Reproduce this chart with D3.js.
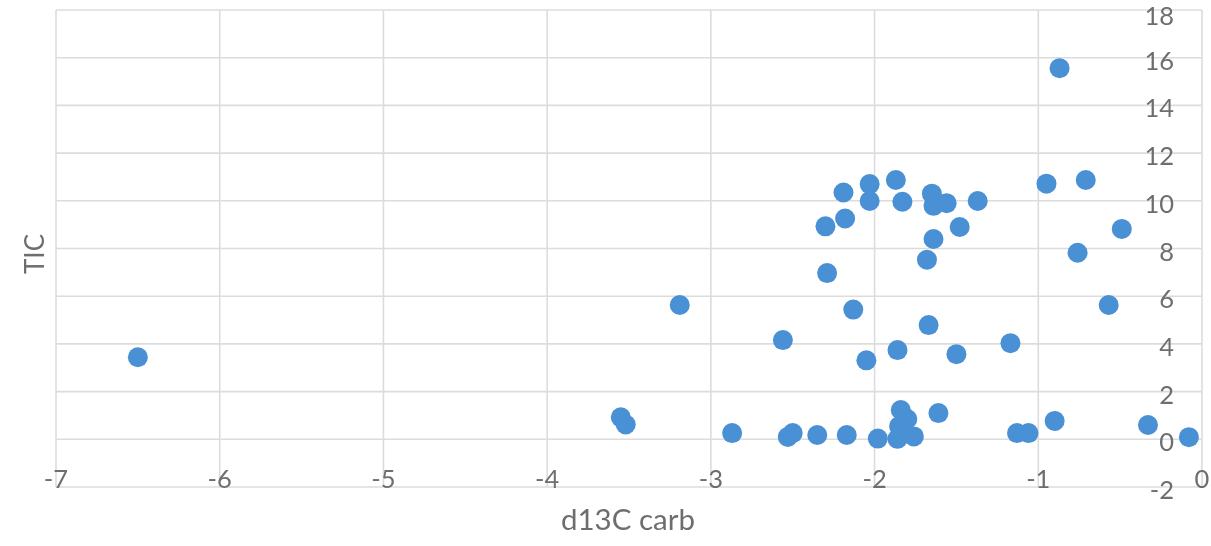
<!DOCTYPE html>
<html>
<head>
<meta charset="utf-8">
<script src="https://cdn.jsdelivr.net/npm/d3@7"></script>
<style>
html,body{margin:0;padding:0;background:#fff;}
svg{display:block;}
text{font-family:Lato,"Open Sans",sans-serif;fill:#6e6e6e;}
</style>
</head>
<body>
<svg id="chart" width="1211" height="546"></svg>
<script>
const xValues = [-6.50,-3.19,-3.55,-3.52,-2.87,-2.53,-2.50,-2.35,-2.17,-1.98,
  -1.84,-1.80,-1.85,-1.84,-1.86,-1.76,-1.61,-1.13,-1.06,-0.90,
  -0.33,-0.08,-2.56,-2.05,-1.86,-1.67,-1.50,-1.17,-2.13,-2.29,
  -1.68,-2.30,-2.18,-1.64,-1.48,-2.19,-2.03,-2.03,-1.87,-1.83,
  -1.65,-1.64,-1.56,-1.37,-0.95,-0.71,-0.49,-0.76,-0.57,-0.87];
const yValues = [3.44,5.63,0.92,0.62,0.26,0.10,0.26,0.18,0.18,0.03,
  1.23,0.85,0.55,0.30,0.02,0.12,1.10,0.26,0.26,0.77,
  0.60,0.09,4.16,3.31,3.74,4.79,3.57,4.03,5.44,6.97,
  7.53,8.93,9.26,8.40,8.90,10.35,10.70,9.99,10.87,9.96,
  10.30,9.79,9.90,9.99,10.72,10.87,8.82,7.82,5.63,15.56];
const xTicks = [-7,-6,-5,-4,-3,-2,-1,0];
const yTicks = [-2,0,2,4,6,8,10,12,14,16,18];
const xTitle = "d13C carb";
const yTitle = "TIC";

const svg = d3.select("#chart");
const defs = svg.append("defs");
defs.append("filter").attr("id","soft")
  .append("feGaussianBlur").attr("stdDeviation",0.6);
const root = svg.append("g").attr("filter","url(#soft)");

const x = d3.scaleLinear().domain([-7,0]).range([56,1202]);
const y = d3.scaleLinear().domain([-2,18]).range([487,10]);

const grid = root.append("g");
grid.selectAll("line.h").data(yTicks).enter().append("line")
  .attr("x1", x(-7)).attr("x2", x(0))
  .attr("y1", d => y(d)).attr("y2", d => y(d))
  .attr("stroke", "#dcdcdc").attr("stroke-width", 1.6);
grid.selectAll("line.v").data(xTicks).enter().append("line")
  .attr("x1", d => x(d)).attr("x2", d => x(d))
  .attr("y1", y(18)).attr("y2", y(-2))
  .attr("stroke", "#dcdcdc").attr("stroke-width", 1.6);

// x tick labels
root.append("g").selectAll("text").data(xTicks).enter().append("text")
  .attr("x", d => x(d)).attr("y", y(-2) + 1)
  .attr("text-anchor", "middle").attr("font-size", 25.5)
  .text(d => String(d));

// y tick labels
const yLabels = root.append("g").selectAll("text").data(yTicks).enter().append("text")
  .attr("x", 1174).attr("y", d => y(d) + 2)
  .attr("text-anchor", "end").attr("dominant-baseline", "central")
  .attr("font-size", 25.5)
  .text(d => String(d));
// keep the top label inside the picture
yLabels.each(function() {
  const b = this.getBBox();
  if (b.y < 0) d3.select(this).attr("y", +d3.select(this).attr("y") - b.y);
});

// points
root.append("g").selectAll("circle").data(xValues.map((v,i)=>[v,yValues[i]]))
  .enter().append("circle")
  .attr("cx", d => x(d[0])).attr("cy", d => y(d[1]))
  .attr("r", 10).attr("fill", "#4a90d4");

// titles
root.append("text").attr("x", 628).attr("y", 530)
  .attr("text-anchor", "middle").attr("font-size", 29.5).text(xTitle);
root.append("text").attr("transform", "translate(44,254) rotate(-90)")
  .attr("text-anchor", "middle").attr("font-size", 26).text(yTitle);
</script>
</body>
</html>
